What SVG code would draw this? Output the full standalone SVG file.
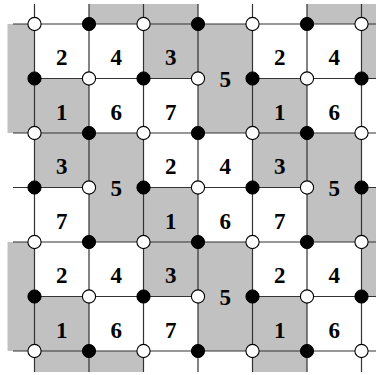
<svg xmlns="http://www.w3.org/2000/svg" width="376" height="375" viewBox="0 0 376 375">
<style>
.g{fill:#c1c1c1;stroke:none}
.ln{stroke:#333;stroke-width:1.2;fill:none}
.t{font-family:"Liberation Serif","Times New Roman",serif;font-weight:bold;font-size:23px;text-anchor:middle;fill:#000}
.b{fill:#000;stroke:#000;stroke-width:1}
.w{fill:#fff;stroke:#000;stroke-width:1.1}
</style>
<rect width="376" height="375" fill="#fff"/>
<g id="shading">
<rect class="g" x="89" y="4" width="109" height="20"/>
<rect class="g" x="307" y="4" width="69" height="20"/>
<rect class="g" x="7.5" y="24" width="27" height="109"/>
<rect class="g" x="7.5" y="242" width="27" height="109"/>
<rect class="g" x="361.5" y="24" width="14.5" height="54.5"/>
<rect class="g" x="361.5" y="187.5" width="14.5" height="109"/>
<rect class="g" x="34.5" y="351" width="109" height="21"/>
<rect class="g" x="252.5" y="351" width="54.5" height="21"/>
</g>
<g id="cell-r0c0"><text class="t" x="61.75" y="65">2</text></g>
<g id="cell-r0c1"><text class="t" x="116.25" y="65">4</text></g>
<g id="cell-r0c2"><rect class="g" x="143.5" y="24" width="54.5" height="54.5"/><text class="t" x="170.75" y="65">3</text></g>
<g id="cell-r01c3"><rect class="g" x="198" y="24" width="54.5" height="109"/><text class="t" x="225.25" y="86.5">5</text></g>
<g id="cell-r0c4"><text class="t" x="279.75" y="65">2</text></g>
<g id="cell-r0c5"><text class="t" x="334.25" y="65">4</text></g>
<g id="cell-r1c0"><rect class="g" x="34.5" y="78.5" width="54.5" height="54.5"/><text class="t" x="61.75" y="119.5">1</text></g>
<g id="cell-r1c1"><text class="t" x="116.25" y="119.5">6</text></g>
<g id="cell-r1c2"><text class="t" x="170.75" y="119.5">7</text></g>
<g id="cell-r1c4"><rect class="g" x="252.5" y="78.5" width="54.5" height="54.5"/><text class="t" x="279.75" y="119.5">1</text></g>
<g id="cell-r1c5"><text class="t" x="334.25" y="119.5">6</text></g>
<g id="cell-r2c0"><rect class="g" x="34.5" y="133" width="54.5" height="54.5"/><text class="t" x="61.75" y="174">3</text></g>
<g id="cell-r23c1"><rect class="g" x="89" y="133" width="54.5" height="109"/><text class="t" x="116.25" y="195.5">5</text></g>
<g id="cell-r2c2"><text class="t" x="170.75" y="174">2</text></g>
<g id="cell-r2c3"><text class="t" x="225.25" y="174">4</text></g>
<g id="cell-r2c4"><rect class="g" x="252.5" y="133" width="54.5" height="54.5"/><text class="t" x="279.75" y="174">3</text></g>
<g id="cell-r23c5"><rect class="g" x="307" y="133" width="54.5" height="109"/><text class="t" x="334.25" y="195.5">5</text></g>
<g id="cell-r3c0"><text class="t" x="61.75" y="228.5">7</text></g>
<g id="cell-r3c2"><rect class="g" x="143.5" y="187.5" width="54.5" height="54.5"/><text class="t" x="170.75" y="228.5">1</text></g>
<g id="cell-r3c3"><text class="t" x="225.25" y="228.5">6</text></g>
<g id="cell-r3c4"><text class="t" x="279.75" y="228.5">7</text></g>
<g id="cell-r4c0"><text class="t" x="61.75" y="283">2</text></g>
<g id="cell-r4c1"><text class="t" x="116.25" y="283">4</text></g>
<g id="cell-r4c2"><rect class="g" x="143.5" y="242" width="54.5" height="54.5"/><text class="t" x="170.75" y="283">3</text></g>
<g id="cell-r45c3"><rect class="g" x="198" y="242" width="54.5" height="109"/><text class="t" x="225.25" y="304.5">5</text></g>
<g id="cell-r4c4"><text class="t" x="279.75" y="283">2</text></g>
<g id="cell-r4c5"><text class="t" x="334.25" y="283">4</text></g>
<g id="cell-r5c0"><rect class="g" x="34.5" y="296.5" width="54.5" height="54.5"/><text class="t" x="61.75" y="337.5">1</text></g>
<g id="cell-r5c1"><text class="t" x="116.25" y="337.5">6</text></g>
<g id="cell-r5c2"><text class="t" x="170.75" y="337.5">7</text></g>
<g id="cell-r5c4"><rect class="g" x="252.5" y="296.5" width="54.5" height="54.5"/><text class="t" x="279.75" y="337.5">1</text></g>
<g id="cell-r5c5"><text class="t" x="334.25" y="337.5">6</text></g>
<g id="connectors">
<path class="ln" d="M34.5 4V372M89 4V372M143.5 4V372M198 4V372M252.5 4V372M307 4V372M361.5 4V372"/>
<path class="ln" d="M13 24H376M34.5 78.5H198M252.5 78.5H376M13 133H376M13 187.5H89M143.5 187.5H307M361.5 187.5H376M13 242H376M34.5 296.5H198M252.5 296.5H376M13 351H376"/>
</g>
<g id="vertices">
<circle class="w" cx="34.5" cy="24" r="6.6"/><circle class="b" cx="89" cy="24" r="6.6"/><circle class="w" cx="143.5" cy="24" r="6.6"/><circle class="b" cx="198" cy="24" r="6.6"/><circle class="w" cx="252.5" cy="24" r="6.6"/><circle class="b" cx="307" cy="24" r="6.6"/><circle class="w" cx="361.5" cy="24" r="6.6"/>
<circle class="b" cx="34.5" cy="78.5" r="6.6"/><circle class="w" cx="89" cy="78.5" r="6.6"/><circle class="b" cx="143.5" cy="78.5" r="6.6"/><circle class="w" cx="198" cy="78.5" r="6.6"/><circle class="b" cx="252.5" cy="78.5" r="6.6"/><circle class="w" cx="307" cy="78.5" r="6.6"/><circle class="b" cx="361.5" cy="78.5" r="6.6"/>
<circle class="w" cx="34.5" cy="133" r="6.6"/><circle class="b" cx="89" cy="133" r="6.6"/><circle class="w" cx="143.5" cy="133" r="6.6"/><circle class="b" cx="198" cy="133" r="6.6"/><circle class="w" cx="252.5" cy="133" r="6.6"/><circle class="b" cx="307" cy="133" r="6.6"/><circle class="w" cx="361.5" cy="133" r="6.6"/>
<circle class="b" cx="34.5" cy="187.5" r="6.6"/><circle class="w" cx="89" cy="187.5" r="6.6"/><circle class="b" cx="143.5" cy="187.5" r="6.6"/><circle class="w" cx="198" cy="187.5" r="6.6"/><circle class="b" cx="252.5" cy="187.5" r="6.6"/><circle class="w" cx="307" cy="187.5" r="6.6"/><circle class="b" cx="361.5" cy="187.5" r="6.6"/>
<circle class="w" cx="34.5" cy="242" r="6.6"/><circle class="b" cx="89" cy="242" r="6.6"/><circle class="w" cx="143.5" cy="242" r="6.6"/><circle class="b" cx="198" cy="242" r="6.6"/><circle class="w" cx="252.5" cy="242" r="6.6"/><circle class="b" cx="307" cy="242" r="6.6"/><circle class="w" cx="361.5" cy="242" r="6.6"/>
<circle class="b" cx="34.5" cy="296.5" r="6.6"/><circle class="w" cx="89" cy="296.5" r="6.6"/><circle class="b" cx="143.5" cy="296.5" r="6.6"/><circle class="w" cx="198" cy="296.5" r="6.6"/><circle class="b" cx="252.5" cy="296.5" r="6.6"/><circle class="w" cx="307" cy="296.5" r="6.6"/><circle class="b" cx="361.5" cy="296.5" r="6.6"/>
<circle class="w" cx="34.5" cy="351" r="6.6"/><circle class="b" cx="89" cy="351" r="6.6"/><circle class="w" cx="143.5" cy="351" r="6.6"/><circle class="b" cx="198" cy="351" r="6.6"/><circle class="w" cx="252.5" cy="351" r="6.6"/><circle class="b" cx="307" cy="351" r="6.6"/><circle class="w" cx="361.5" cy="351" r="6.6"/>
</g>
</svg>
